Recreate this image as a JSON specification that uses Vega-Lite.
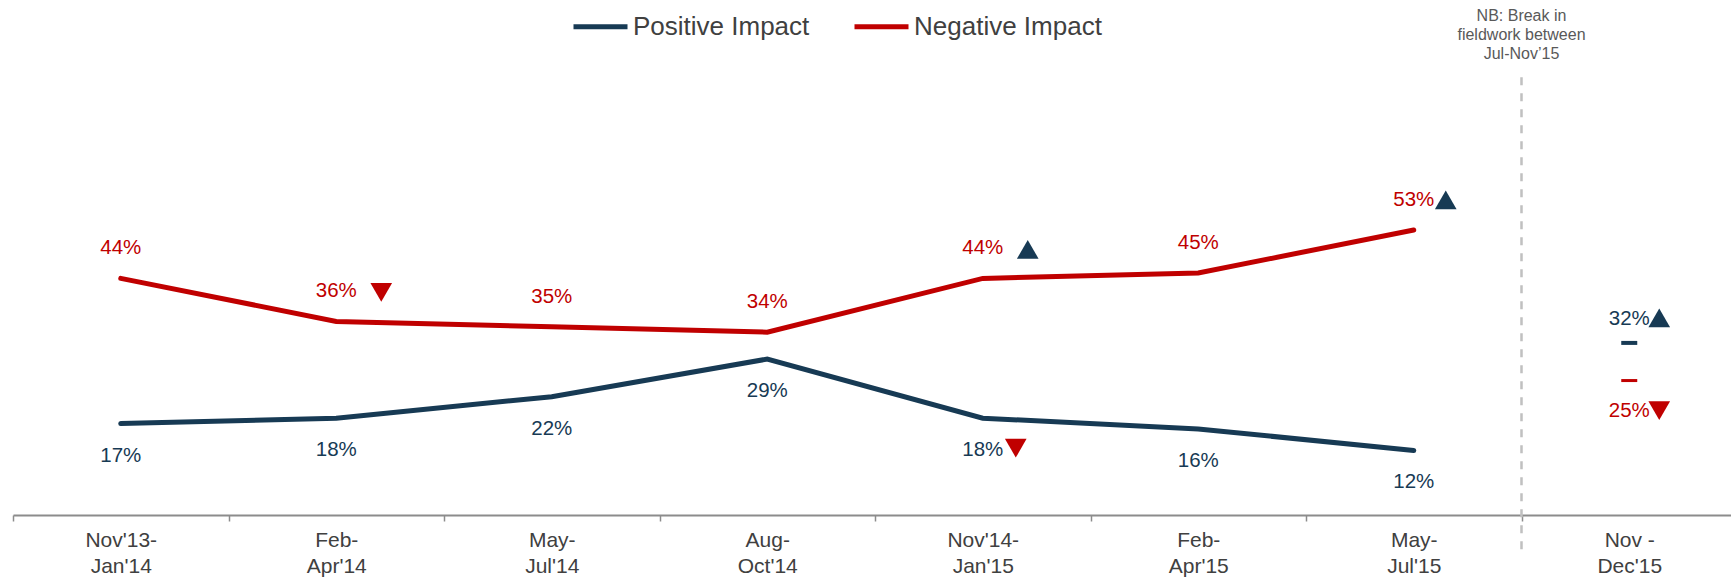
{
  "$schema": "https://vega.github.io/schema/vega-lite/v6.json",
  "width": 1724,
  "height": 484,
  "autosize": {"type": "none"},
  "padding": {"left": 13, "top": 31, "right": 0, "bottom": 62},
  "background": "#ffffff",
  "config": {"view": {"stroke": null}, "font": "Liberation Sans"},
  "datasets": {
    "impact": [
      {"wave": 1, "period": "Nov'13-\nJan'14", "series": "Positive Impact", "value": 0.17, "sig": ""},
      {"wave": 1, "period": "Nov'13-\nJan'14", "series": "Negative Impact", "value": 0.44, "sig": ""},
      {"wave": 2, "period": "Feb-\nApr'14", "series": "Positive Impact", "value": 0.18, "sig": ""},
      {"wave": 2, "period": "Feb-\nApr'14", "series": "Negative Impact", "value": 0.36, "sig": "down"},
      {"wave": 3, "period": "May-\nJul'14", "series": "Positive Impact", "value": 0.22, "sig": ""},
      {"wave": 3, "period": "May-\nJul'14", "series": "Negative Impact", "value": 0.35, "sig": ""},
      {"wave": 4, "period": "Aug-\nOct'14", "series": "Positive Impact", "value": 0.29, "sig": ""},
      {"wave": 4, "period": "Aug-\nOct'14", "series": "Negative Impact", "value": 0.34, "sig": ""},
      {"wave": 5, "period": "Nov'14-\nJan'15", "series": "Positive Impact", "value": 0.18, "sig": "down"},
      {"wave": 5, "period": "Nov'14-\nJan'15", "series": "Negative Impact", "value": 0.44, "sig": "up"},
      {"wave": 6, "period": "Feb-\nApr'15", "series": "Positive Impact", "value": 0.16, "sig": ""},
      {"wave": 6, "period": "Feb-\nApr'15", "series": "Negative Impact", "value": 0.45, "sig": ""},
      {"wave": 7, "period": "May-\nJul'15", "series": "Positive Impact", "value": 0.12, "sig": ""},
      {"wave": 7, "period": "May-\nJul'15", "series": "Negative Impact", "value": 0.53, "sig": "up"},
      {"wave": 8, "period": "Nov -\nDec'15", "series": "Positive Impact", "value": 0.32, "sig": "up"},
      {"wave": 8, "period": "Nov -\nDec'15", "series": "Negative Impact", "value": 0.25, "sig": "down"}
    ]
  },
  "encoding": {
    "x": {
      "field": "period",
      "type": "nominal",
      "sort": null,
      "scale": {
        "type": "band",
        "domain": ["Nov'13-\nJan'14", "Feb-\nApr'14", "May-\nJul'14", "Aug-\nOct'14", "Nov'14-\nJan'15", "Feb-\nApr'15", "May-\nJul'15", "Nov -\nDec'15"],
        "paddingInner": 0,
        "paddingOuter": 0
      },
      "axis": {
        "title": null,
        "labelAngle": 0,
        "labelExpr": "split(datum.label, '\\n')",
        "labelFont": "Liberation Sans",
        "labelFontSize": 21,
        "labelColor": "#404040",
        "labelLineHeight": 26,
        "labelPadding": 8,
        "tickBand": "extent",
        "tickSize": 6,
        "tickColor": "#8c8c8c",
        "tickWidth": 1.5,
        "domainColor": "#8c8c8c",
        "domainWidth": 2
      }
    },
    "y": {
      "field": "value",
      "type": "quantitative",
      "scale": {"domain": [0, 0.9], "nice": false, "zero": true},
      "axis": null
    }
  },
  "layer": [
    {
      "data": {"name": "impact"},
      "transform": [{"filter": "datum.wave == 8 && datum.series == 'Positive Impact'"}],
      "mark": {"type": "rule", "strokeDash": [8, 8], "color": "#c0c0c0", "strokeWidth": 2.5},
      "encoding": {
        "x": {"field": "period", "type": "nominal", "bandPosition": 0},
        "y": {"datum": 0.814},
        "y2": {"datum": -0.065}
      }
    },
    {
      "data": {"name": "impact"},
      "transform": [{"filter": "datum.wave == 8 && datum.series == 'Positive Impact'"}],
      "mark": {"type": "text", "text": ["NB: Break in", "fieldwork between", "Jul-Nov\u201915"], "align": "center", "baseline": "top", "fontSize": 16, "lineHeight": 19, "color": "#595959", "font": "Liberation Sans"},
      "encoding": {
        "x": {"field": "period", "type": "nominal", "bandPosition": 0},
        "y": {"datum": 0.943}
      }
    },
    {
      "data": {"name": "impact"},
      "transform": [{"filter": "datum.wave <= 7"}],
      "mark": {"type": "line", "strokeWidth": 5, "strokeCap": "round"},
      "encoding": {
        "color": {
          "field": "series",
          "type": "nominal",
          "scale": {"domain": ["Positive Impact", "Negative Impact"], "range": ["#173a54", "#c00000"]},
          "legend": {
            "orient": "none",
            "legendX": 558,
            "legendY": -34,
            "direction": "horizontal",
            "title": null,
            "symbolType": "stroke",
            "symbolStrokeWidth": 5,
            "symbolSize": 2916,
            "labelFont": "Liberation Sans",
            "labelFontSize": 26,
            "labelColor": "#404040",
            "labelOffset": 3,
            "labelLimit": 0,
            "columnPadding": 34
          }
        }
      }
    },
    {
      "data": {"name": "impact"},
      "transform": [{"filter": "datum.wave == 8 && datum.series == 'Positive Impact'"}],
      "mark": {"type": "tick", "orient": "horizontal", "size": 16, "thickness": 4, "color": "#173a54", "opacity": 1}
    },
    {
      "data": {"name": "impact"},
      "transform": [{"filter": "datum.wave == 8 && datum.series == 'Negative Impact'"}],
      "mark": {"type": "tick", "orient": "horizontal", "size": 16, "thickness": 3, "color": "#c00000", "opacity": 1}
    },
    {
      "data": {"name": "impact"},
      "transform": [{"filter": "datum.wave <= 7 && datum.series == 'Negative Impact'"}],
      "mark": {"type": "text", "dy": -30, "baseline": "middle", "align": "center", "fontSize": 20.5, "color": "#c00000", "font": "Liberation Sans"},
      "encoding": {"text": {"field": "value", "type": "quantitative", "format": ".0%"}}
    },
    {
      "data": {"name": "impact"},
      "transform": [{"filter": "datum.wave <= 7 && datum.series == 'Positive Impact'"}],
      "mark": {"type": "text", "dy": 32, "baseline": "middle", "align": "center", "fontSize": 20.5, "color": "#173a54", "font": "Liberation Sans"},
      "encoding": {"text": {"field": "value", "type": "quantitative", "format": ".0%"}}
    },
    {
      "data": {"name": "impact"},
      "transform": [{"filter": "datum.wave == 8 && datum.series == 'Positive Impact'"}],
      "mark": {"type": "text", "dy": -24, "baseline": "middle", "align": "center", "fontSize": 20.5, "color": "#173a54", "font": "Liberation Sans"},
      "encoding": {"text": {"field": "value", "type": "quantitative", "format": ".0%"}}
    },
    {
      "data": {"name": "impact"},
      "transform": [{"filter": "datum.wave == 8 && datum.series == 'Negative Impact'"}],
      "mark": {"type": "text", "dy": 30, "baseline": "middle", "align": "center", "fontSize": 20.5, "color": "#c00000", "font": "Liberation Sans"},
      "encoding": {"text": {"field": "value", "type": "quantitative", "format": ".0%"}}
    },
    {
      "data": {"name": "impact"},
      "transform": [{"filter": "datum.sig != '' && datum.series == 'Negative Impact' && (datum.wave == 2 || datum.wave == 5)"}],
      "mark": {"type": "point", "filled": true, "size": 470, "opacity": 1, "xOffset": 45, "yOffset": -29},
      "encoding": {
        "shape": {"condition": {"test": "datum.sig == 'up'", "value": "triangle-up"}, "value": "triangle-down"},
        "color": {"condition": {"test": "datum.sig == 'up'", "value": "#173a54"}, "value": "#c00000"}
      }
    },
    {
      "data": {"name": "impact"},
      "transform": [{"filter": "datum.sig != '' && datum.series == 'Negative Impact' && datum.wave == 7"}],
      "mark": {"type": "point", "filled": true, "size": 470, "opacity": 1, "xOffset": 32, "yOffset": -30},
      "encoding": {
        "shape": {"condition": {"test": "datum.sig == 'up'", "value": "triangle-up"}, "value": "triangle-down"},
        "color": {"condition": {"test": "datum.sig == 'up'", "value": "#173a54"}, "value": "#c00000"}
      }
    },
    {
      "data": {"name": "impact"},
      "transform": [{"filter": "datum.sig != '' && datum.series == 'Positive Impact' && datum.wave <= 7"}],
      "mark": {"type": "point", "filled": true, "size": 470, "opacity": 1, "xOffset": 33, "yOffset": 30},
      "encoding": {
        "shape": {"condition": {"test": "datum.sig == 'up'", "value": "triangle-up"}, "value": "triangle-down"},
        "color": {"condition": {"test": "datum.sig == 'up'", "value": "#173a54"}, "value": "#c00000"}
      }
    },
    {
      "data": {"name": "impact"},
      "transform": [{"filter": "datum.wave == 8 && datum.series == 'Positive Impact'"}],
      "mark": {"type": "point", "filled": true, "size": 470, "opacity": 1, "xOffset": 30, "yOffset": -25},
      "encoding": {
        "shape": {"condition": {"test": "datum.sig == 'up'", "value": "triangle-up"}, "value": "triangle-down"},
        "color": {"condition": {"test": "datum.sig == 'up'", "value": "#173a54"}, "value": "#c00000"}
      }
    },
    {
      "data": {"name": "impact"},
      "transform": [{"filter": "datum.wave == 8 && datum.series == 'Negative Impact'"}],
      "mark": {"type": "point", "filled": true, "size": 470, "opacity": 1, "xOffset": 30, "yOffset": 30},
      "encoding": {
        "shape": {"condition": {"test": "datum.sig == 'up'", "value": "triangle-up"}, "value": "triangle-down"},
        "color": {"condition": {"test": "datum.sig == 'up'", "value": "#173a54"}, "value": "#c00000"}
      }
    }
  ]
}
